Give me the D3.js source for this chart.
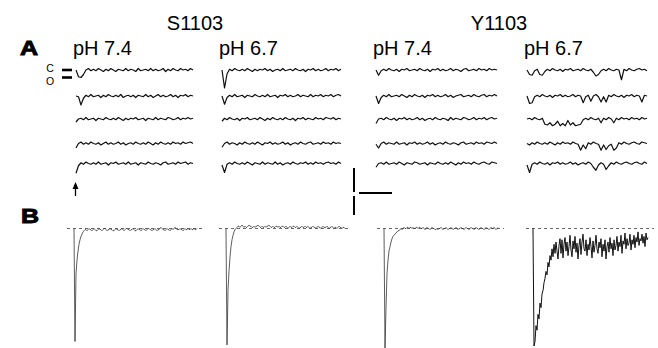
<!DOCTYPE html>
<html>
<head>
<meta charset="utf-8">
<script src="https://cdn.jsdelivr.net/npm/d3@7"></script>
<style>
  html, body { margin: 0; padding: 0; background: #fff; }
  svg { display: block; font-family: "Liberation Sans", Arial, Helvetica, sans-serif; }
</style>
</head>
<body>
<svg id="fig" width="658" height="348"></svg>
<script>
const mutants = ['S1103', 'Y1103'];
const phLabels = ['pH 7.4', 'pH 6.7', 'pH 7.4', 'pH 6.7'];
const levelLabels = ['C', 'O'];

// A: single-channel sweeps, current in tenths of the unitary amplitude (0 = closed, -10 = open)
const sweepsS74 = [
  [0,-9,-10,-6,0,2,-1,1, -1,2,0,-2,1,-1,2,0, -2,1,0,-1,2,-1,1,0, -2,2,-1,0,1,-1,2,-1, 1,-1,0,2,-2,1,-1,2, 0,-1,2,0,1,-1,2,0],
  [0,-1,-12,-3,1,-1,2,-1, 0,1,-2,1,-1,2,0,-1, 1,-1,2,-2,0,1,-1,1, -2,1,0,-1,2,-1,1,-2, 0,2,-1,1,-1,0,2,-1, 1,-2,1,0,2,-1,1,0],
  [-4,0,1,-1,2,-1,0,1, -2,1,0,-1,2,0,-1,1, -1,2,0,-2,1,-1,1,0, 2,-1,0,1,-2,1,0,-1, 2,-1,1,0,-1,2,1,-1, 0,2,-1,1,0,2,0,1],
  [-6,0,2,-1,1,-1,2,0, -1,1,-2,0,2,-1,1,-1, 0,2,-1,1,-2,0,1,-1, 2,0,-1,1,-1,2,0,-2, 1,-1,2,0,-1,1,-1,2, 0,1,-1,2,0,1,2,0],
  [-13,-3,1,-1,2,0,-1,1, -1,2,-1,0,1,-2,1,0, 2,-1,0,1,-1,2,-1,0, 1,-2,1,0,-1,2,0,-1, 1,0,-2,1,2,-1,0,1, -1,2,0,1,2,-1,1,0]
];
const sweepsS67 = [
  [0,-24,-5,1,-1,2,0,-1, 1,-1,2,0,-2,1,-1,1, 0,2,-1,1,-2,0,1,-1, 2,-1,0,1,-1,2,0,-1, 1,-2,1,0,2,-1,1,-1, 0,2,-1,1,0,2,-1,1],
  [0,-11,-2,1,-1,2,-1,0, 1,-2,1,0,-1,2,0,-1, 1,-1,2,-1,0,1,-2,1, 0,2,-1,1,-1,0,2,-1, 1,0,-1,2,-1,1,0,2, -1,1,0,2,-1,1,2,0],
  [-3,1,-1,2,0,-1,1,-2, 1,0,2,-1,0,1,-1,2, 0,-2,1,-1,2,0,-1,1, -1,2,0,-1,1,-2,1,0, 2,-1,1,0,-1,2,0,1, -1,2,1,0,2,-1,1,0],
  [-5,0,2,-1,1,0,-2,1, -1,2,0,-1,1,-1,2,0, -2,1,0,2,-1,1,-1,0, 2,-1,1,-2,0,1,-1,2, 0,-1,1,2,-1,0,1,-1, 2,0,1,-1,2,0,1,0],
  [-2,-12,-1,1,-1,2,0,-1, 1,-1,2,0,-2,1,0,-1, 2,-1,1,0,-1,2,-1,1, -2,0,1,-1,2,0,-1,1, 0,2,-1,1,-1,2,0,1, -1,1,2,0,1,-1,2,0]
];
const sweepsY74 = [
  [0,-7,-1,1,-1,2,0,-1, 1,-2,1,0,2,-1,0,1, -1,2,0,-1,1,-2,1,0, 2,-1,1,-1,0,2,-1,1, 0,-2,1,2,-1,0,1,-1, 2,0,1,-1,2,0,1,0],
  [0,-10,-2,1,-1,2,-1,0, 1,-1,2,0,-2,1,-1,2, 0,-1,1,-2,1,0,2,-1, 1,-1,0,2,-1,1,-2,0, 1,2,-1,0,1,-1,2,0, -1,1,2,-1,1,0,2,0],
  [-6,0,1,-1,2,0,-1,1, -2,1,0,2,-1,1,-1,0, 2,-1,1,-2,0,1,-1,2, 0,-1,1,0,-2,2,-1,1, 0,-1,2,1,-1,0,2,-1, 1,0,2,-1,1,2,0,1],
  [-1,-6,0,2,-1,1,0,-1, 2,-1,0,1,-2,1,0,2, -1,1,-1,0,2,-1,1,-2, 0,1,-1,2,0,-1,1,0, -2,1,2,-1,0,1,-1,2, 0,1,-1,2,1,0,2,0],
  [-5,0,1,-1,2,-1,0,1, -1,2,0,-2,1,0,-1,2, 1,-1,0,1,-2,1,0,-1, 2,0,-1,1,-1,2,0,-2, 1,-1,2,0,1,-1,2,0, -1,1,2,0,-1,2,1,0]
];
const sweepsY67 = [
  [0,-6,-7,-1,1,-6,-7,-2, 1,-1,2,0,-1,1,-2,1, 0,2,-1,0,1,-1,2,0, -1,1,-3,-8,-6,-1,1,-1, 2,0,-1,1,0,-13,1,-1, 2,0,-1,1,2,0,1,-1],
  [0,-10,-9,-1,1,-1,2,0, -1,1,-2,1,0,2,-1,1, -1,0,2,-1,1,0,-9,-1, 1,-7,0,2,-1,-8,-1,-8, 1,-1,2,0,-1,1,-2,1, 0,2,-1,1,0,-8,1,0],
  [0,1,-1,2,0,-1,1,-7, -8,-5,-9,-7,-3,-9,-6,-9, -2,-8,-5,-9,-8,-7,-1,1, -1,2,0,-1,1,-5,1,-1, 2,0,-5,1,-1,2,0,1, -1,2,0,1,-1,2,0,1],
  [0,-2,1,-1,2,0,-1,1, -1,2,0,-2,1,-1,2,0, 1,-1,2,0,-1,-9,-2,-7, 1,-1,2,0,-1,-9,-2,-8, -3,-1,-9,-6,1,-1,2,0, -1,1,2,0,-1,2,1,0],
  [-2,-12,-1,1,-1,2,0,-1, 1,-2,1,0,2,-1,1,-1, 0,2,-1,1,-2,0,1,-1, 2,0,-5,-9,-2,1,-1,-8, -3,1,-1,2,0,-1,1,2, 0,-1,1,2,0,-1,2,0]
];

// B: ensemble averages, normalised current (peak of S1103 pH 7.4 = -100), one value per sample
const ensembleS74 = [0,-100,-40,-28,-20,-14,-10,-7,-5,-3,-2,-1,
  -1,-2,-1,0,-1,-1,-2,-1, 0,-1,-2,-2,-1,0,-1,-1, -2,-1,0,0,-1,-2,-1,-1, 0,-1,-1,-2,-2,-1,0,-1,
  -1,-2,-1,-1,0,-1,-2,-1, 0,0,-1,-1,-2,-1,-1,0, -1,-2,-2,-1,0,-1,-1,-2, -1,0,-1,-1,-2,-1,0,0,
  -1,-1,-2,-1,-1,0,-1,-2, -1,-1,0,1,0,-1,-1,-2, -1,0,-1,-1,-2,-1,0,-1, 0,1,0,-1,-1,-1,0,-1,
  -1,-2,-1,0,-1,-1,0,-1, -1,0,-1,-1,0,-1,-1,0];
const ensembleS67 = [0,-103,-55,-38,-25,-16,-10,-6,-3,-1,0,
  1,2,2,1,2,3,2,1, 2,1,1,2,3,2,2,1, 1,2,1,2,2,3,2,1, 1,2,1,1,2,1,2,2,
  3,2,1,1,2,1,1,2, 2,1,2,1,1,2,2,1, 1,2,1,0,1,2,1,1, 2,2,1,1,2,1,0,1,
  1,2,1,1,2,1,1,2, 1,0,1,1,2,1,1,0, 1,2,1,1,0,1,2,1, 1,1,2,1,0,1,1,2,
  1,0,1,1,0,1,2,1, 1,0,1,1,0];
const ensembleY74 = [0,-106,-70,-40,-28,-20,-16,-12,-9,-7,-6,-5,-4,-3,-2,-2,-1,
  0,-1,0,1,0,0,1,1, 0,1,1,0,1,0,0,1, 1,0,1,1,0,0,1,0, -1,0,1,0,0,-1,0,1,
  0,0,-1,-1,0,-1,0,0, 1,0,-1,0,0,1,0,-1, 0,0,1,0,-1,0,0,1, 0,-1,0,0,1,0,0,-1,
  0,1,0,0,-1,0,1,0, 0,-1,0,1,0,0,-1,0, 1,0,0,-1,0,1,0,0, -1,0,1,0,0,1,0,-1, 0,1];
const ensembleY67 = [0,-104,-100,-86,-90,-76,-80,-66,-70,-58,-55,-48,-44,-38,-41,-30,-34,-24,-28,-18,
  -25,-14,-22,-12,-20,-27,-15,-9,
  -22,-10,-26,-14,-8,-20,-12,-24, -16,-6,-19,-25,-11,-18,-7,-21, -13,-27,-15,-9,-23,-12,-5,-18,
  -20,-10,-24,-14,-19,-8,-16,-26, -11,-21,-15,-6,-18,-22,-12,-17, -9,-25,-14,-20,-10,-27,-16,-12,
  -21,-8,-18,-13,-24,-10,-19,-15, -7,-20,-12,-16,-6,-22,-11,-14, -4,-18,-9,-15,-13,-5,-19,-10,
  -14,-6,-17,-8,-12,-3,-15,-9, -11,-5,-13,-7,-16,-4,-10,-8];

const sweepSets = [sweepsS74, sweepsS67, sweepsY74, sweepsY67];
const ensembles = [ensembleS74, ensembleS67, ensembleY74, ensembleY67];

// layout
const COL_A = [[76, 193], [222, 341], [376, 497], [527, 647]];
const ROW_Y = [70, 96, 119, 143.5, 163.5];
const COL_B = [74, 226, 384, 533];
const B_BASE = 228.5;
const TITLE_X = [195, 499];

const svg = d3.select('#fig');

const yA = d3.scaleLinear().domain([0, -10]).range([0, 7.5]);
const yB = d3.scaleLinear().domain([0, -100]).range([B_BASE, B_BASE + 113]);

// headers
svg.selectAll('text.mutant')
  .data(mutants)
  .join('text')
  .attr('class', 'mutant')
  .attr('x', (d, i) => TITLE_X[i])
  .attr('y', 30)
  .attr('text-anchor', 'middle')
  .attr('font-size', 20)
  .text((d) => d);

svg.selectAll('text.ph')
  .data(phLabels)
  .join('text')
  .attr('class', 'ph')
  .attr('x', (d, i) => COL_A[i][0] - 3)
  .attr('y', 55)
  .attr('font-size', 20)
  .text((d) => d);

// panel letters
[['A', 20, 55], ['B', 21, 223]].forEach(([txt, x, y]) => {
  svg.append('text')
    .attr('transform', `translate(${x},${y}) scale(1.25,1)`)
    .attr('font-size', 20)
    .attr('font-weight', 'bold')
    .attr('stroke', '#000')
    .attr('stroke-width', 0.9)
    .text(txt);
});

// panel A sweeps
sweepSets.forEach((sweeps, c) => {
  const x = d3.scaleLinear().domain([0, sweeps[0].length - 1]).range(COL_A[c]);
  const line = d3.line().x((d, i) => x(i)).y((d) => yA(d));
  sweeps.forEach((sweep, r) => {
    svg.append('path')
      .datum(sweep)
      .attr('transform', `translate(0,${ROW_Y[r]})`)
      .attr('fill', 'none')
      .attr('stroke', '#111')
      .attr('stroke-width', 1.2)
      .attr('stroke-linejoin', 'round')
      .attr('d', line);
  });
});

// closed / open level markers
const marks = svg.append('g').attr('transform', `translate(0,${ROW_Y[0]})`);
[0, -10].forEach((lvl) => {
  marks.append('line')
    .attr('x1', 62).attr('x2', 72)
    .attr('y1', yA(lvl)).attr('y2', yA(lvl))
    .attr('stroke', '#000')
    .attr('stroke-width', 2.6);
});
svg.selectAll('text.level')
  .data(levelLabels)
  .join('text')
  .attr('class', 'level')
  .attr('x', 50)
  .attr('y', (d, i) => [72, 84.5][i])
  .attr('text-anchor', 'middle')
  .attr('font-size', 10.5)
  .text((d) => d);

// arrow marking the depolarising step
svg.append('line')
  .attr('x1', 75.5).attr('x2', 75.5)
  .attr('y1', 196).attr('y2', 187)
  .attr('stroke', '#000')
  .attr('stroke-width', 1.3);
svg.append('path')
  .attr('d', 'M72.5,189 L75.5,182 L78.5,189 Z')
  .attr('fill', '#000');

// scale bar
svg.append('g')
  .attr('stroke', '#000')
  .attr('stroke-width', 2)
  .call((g) => {
    g.append('line').attr('x1', 354).attr('x2', 354).attr('y1', 168).attr('y2', 192);
    g.append('line').attr('x1', 354).attr('x2', 354).attr('y1', 196).attr('y2', 215);
    g.append('line').attr('x1', 359).attr('x2', 392).attr('y1', 193).attr('y2', 193);
  });

// panel B ensemble currents
ensembles.forEach((trace, c) => {
  const x = d3.scaleLinear().domain([0, 1]).range([COL_B[c], COL_B[c] + 1]);
  svg.append('line')
    .attr('x1', x(-7)).attr('x2', x(trace.length + 5))
    .attr('y1', yB(0)).attr('y2', yB(0))
    .attr('stroke', '#444')
    .attr('stroke-width', 0.8)
    .attr('stroke-dasharray', '3,3');
  svg.append('path')
    .datum(trace)
    .attr('fill', 'none')
    .attr('stroke', c === 3 ? '#111' : '#333')
    .attr('stroke-width', c === 3 ? 1 : 0.8)
    .attr('d', d3.line().x((d, i) => x(i)).y((d) => yB(d)));
});
</script>
</body>
</html>
